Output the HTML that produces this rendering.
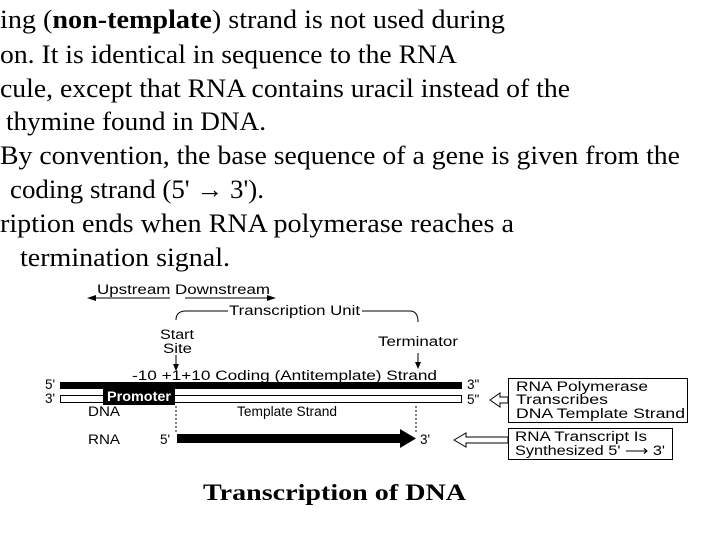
<!DOCTYPE html>
<html><head><meta charset="utf-8"><style>
body{margin:0;width:720px;height:540px;background:#fff;position:relative;overflow:hidden;color:#000}
</style></head><body>
<svg width="720" height="540" style="position:absolute;left:0;top:0" font-family="Liberation Serif, serif" font-size="26">
<text x="0" y="28" textLength="505" lengthAdjust="spacingAndGlyphs">ing (<tspan font-weight="bold">non-template</tspan>) strand is not used during</text>
<text x="0" y="63" textLength="457" lengthAdjust="spacingAndGlyphs">on. It is identical in sequence to the RNA</text>
<text x="0" y="97" textLength="570" lengthAdjust="spacingAndGlyphs">cule, except that RNA contains uracil instead of the</text>
<text x="6" y="130" textLength="260" lengthAdjust="spacingAndGlyphs">thymine found in DNA.</text>
<text x="0" y="164" textLength="680" lengthAdjust="spacingAndGlyphs">By convention, the base sequence of a gene is given from the</text>
<text x="10" y="198" textLength="254" lengthAdjust="spacingAndGlyphs">coding strand (5' → 3').</text>
<text x="0" y="232" textLength="514" lengthAdjust="spacingAndGlyphs">ription ends when RNA polymerase reaches a</text>
<text x="20" y="266" textLength="210" lengthAdjust="spacingAndGlyphs">termination signal.</text>
<text x="203" y="500" font-size="23" font-weight="bold" textLength="263" lengthAdjust="spacingAndGlyphs">Transcription of DNA</text>
</svg>
<svg width="720" height="540" style="position:absolute;left:0;top:0" font-family="Liberation Sans, sans-serif" font-size="13.5">
<text x="97" y="294" textLength="173" lengthAdjust="spacingAndGlyphs">Upstream Downstream</text>
<line x1="92" y1="298" x2="170" y2="298" stroke="#000"/><polygon points="87,298 96,295 96,301"/>
<line x1="185" y1="298" x2="270" y2="298" stroke="#000"/><polygon points="276,298 267,295 267,301"/>
<path d="M176,320 Q176,311 186,311 L228,311" fill="none" stroke="#000"/>
<text x="229" y="315" textLength="131" lengthAdjust="spacingAndGlyphs">Transcription Unit</text>
<path d="M362,311 L410,311 Q418,311 418,322" fill="none" stroke="#000"/>
<text x="160" y="339" textLength="34" lengthAdjust="spacingAndGlyphs">Start</text><text x="163" y="353" textLength="29" lengthAdjust="spacingAndGlyphs">Site</text>
<line x1="176" y1="355" x2="176" y2="367" stroke="#000"/><polygon points="176,371 173,364 179,364"/>
<text x="378" y="346" textLength="80" lengthAdjust="spacingAndGlyphs">Terminator</text>
<line x1="418" y1="353" x2="418" y2="364" stroke="#000"/><polygon points="418,369 415,362 421,362"/>
<text x="132" y="380" textLength="305" lengthAdjust="spacingAndGlyphs">-10 +1+10  Coding (Antitemplate) Strand</text>
<rect x="60" y="382" width="402" height="7"/>
<rect x="60.5" y="395.5" width="401" height="7" fill="#fff" stroke="#000"/>
<rect x="103" y="387" width="72" height="18"/>
<text x="107" y="401" fill="#fff" font-weight="bold" textLength="64" lengthAdjust="spacingAndGlyphs">Promoter</text>
<text x="45" y="389">5'</text><text x="45" y="403">3'</text>
<text x="467" y="389">3"</text><text x="467" y="404">5"</text>
<text x="88" y="416" textLength="32" lengthAdjust="spacingAndGlyphs">DNA</text><text x="237" y="416" textLength="100" lengthAdjust="spacingAndGlyphs">Template Strand</text>
<line x1="176" y1="406" x2="176" y2="433" stroke="#000" stroke-dasharray="2,2"/>
<line x1="416" y1="406" x2="416" y2="433" stroke="#000" stroke-dasharray="2,2"/>
<text x="88" y="444" textLength="32" lengthAdjust="spacingAndGlyphs">RNA</text><text x="160" y="444">5'</text>
<rect x="177" y="434" width="225" height="9"/>
<polygon points="400,429 416,438.5 400,448"/>
<text x="420" y="444">3'</text>
<rect x="508.5" y="378.5" width="179" height="44" fill="#fff" stroke="#000"/>
<text x="516" y="391" textLength="132" lengthAdjust="spacingAndGlyphs">RNA Polymerase</text>
<text x="516" y="404" textLength="92" lengthAdjust="spacingAndGlyphs">Transcribes</text>
<text x="516" y="418" textLength="169" lengthAdjust="spacingAndGlyphs">DNA Template Strand</text>
<polygon points="490,400 500,393 500,397 508,397 508,403 500,403 500,407" fill="#fff" stroke="#000"/>
<rect x="508.5" y="428.5" width="164" height="31" fill="#fff" stroke="#000"/>
<text x="515" y="441" textLength="132" lengthAdjust="spacingAndGlyphs">RNA Transcript Is</text>
<text x="515" y="455" textLength="150" lengthAdjust="spacingAndGlyphs">Synthesized 5' ⟶ 3'</text>
<polygon points="454,440 466,433 466,437 508,437 508,443 466,443 466,447" fill="#fff" stroke="#000"/>
</svg>
</body></html>
